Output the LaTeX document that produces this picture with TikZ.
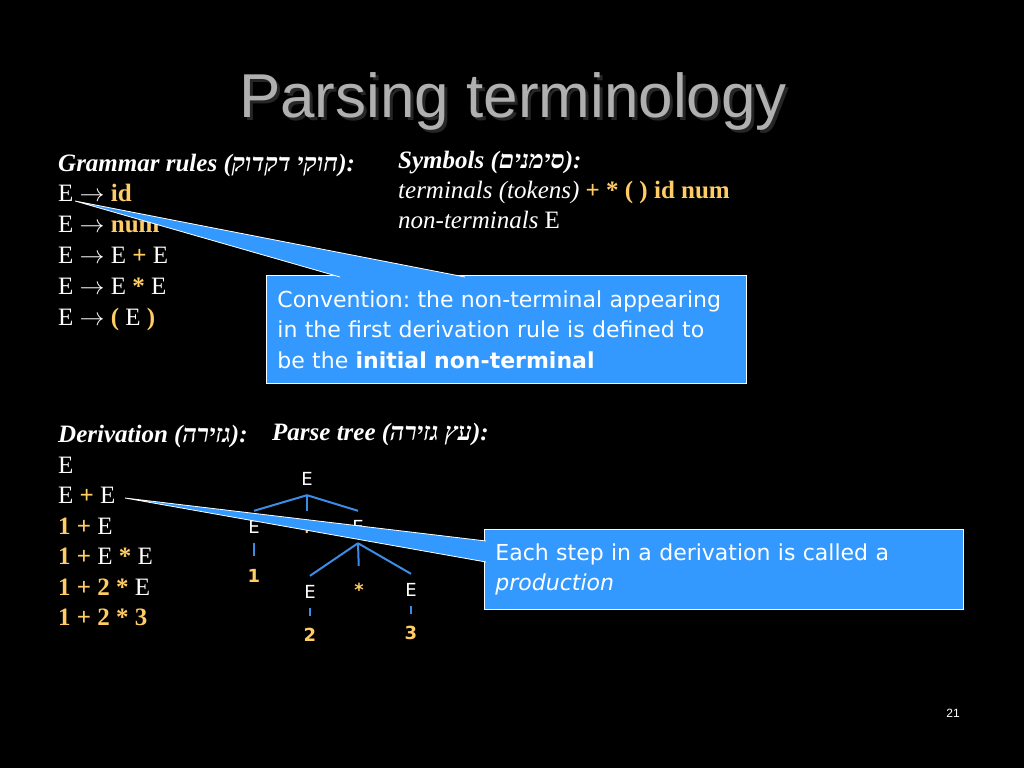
\documentclass[tikz,border=0pt]{standalone}
\usepackage{fontspec}
\setmainfont{Liberation Serif}
\newfontfamily\hebfont[Script=Hebrew]{Liberation Serif}
\newfontfamily\titlefont{Liberation Sans}
\newfontfamily\boxfont{DejaVu Sans}
\TeXXeTstate=1
\frenchspacing
\newcommand{\heb}[1]{{\hebfont\beginR #1\endR}}
\definecolor{calloutblue}{RGB}{51,153,255}
\definecolor{treeblue}{RGB}{60,140,230}
\definecolor{hlorange}{RGB}{255,204,102}
\definecolor{titlegray}{RGB}{176,176,176}
\newcommand{\hl}[1]{\textcolor{hlorange}{\textbf{#1}}}

\begin{document}
\begin{tikzpicture}[x=1pt,y=-1pt,
        txt/.style={anchor=base west,inner sep=0pt,text=white,font=\fontsize{25}{30}\selectfont},
        treenode/.style={font=\boxfont\fontsize{18}{20}\selectfont,text=white,text height=13pt,text depth=0pt,minimum height=32pt,inner sep=0pt},
        leaf/.style={treenode,text=hlorange,font=\boxfont\bfseries\fontsize{18}{20}\selectfont},
        treeline/.style={treeblue,line width=2pt},
        callout/.style={fill=calloutblue,draw=white,line width=0.8pt,text=white,align=left,anchor=north west,
            font=\boxfont\fontsize{22}{30.5}\selectfont}]

    % Background
    \fill[black] (0,0) rectangle (1024,768);
    \useasboundingbox (0,0) rectangle (1024,768);

    % Title
    \node[text=black!70!gray,font=\titlefont\fontsize{62}{64}\selectfont] at (516,104) {Parsing terminology};
    \node[text=titlegray,font=\titlefont\fontsize{62}{64}\selectfont] (title) at (513,101) {Parsing terminology};

    % Grammar rules
    \node[txt] (rule0) at (58,171) {\textbf{\textit{Grammar rules (\heb{חוקי דקדוק}):}}};
    \node[txt] (rule1) at (58,201) {E $\rightarrow$ \hl{id}};
    \node[txt] (rule2) at (58,232) {E $\rightarrow$ \hl{num}};
    \node[txt] (rule3) at (58,263) {E $\rightarrow$ E \hl{+} E};
    \node[txt] (rule4) at (58,294) {E $\rightarrow$ E \hl{*} E};
    \node[txt] (rule5) at (58,325) {E $\rightarrow$ \hl{(} E \hl{)}};

    % Symbols
    \node[txt] (sym0) at (398,168) {\textbf{\textit{Symbols (\heb{סימנים}):}}};
    \node[txt] (sym1) at (398,198) {\textit{terminals (tokens)} \hl{+ * ( ) id num}};
    \node[txt] (sym2) at (398,228) {\textit{non-terminals} E};

    % Derivation
    \node[txt] (der0) at (58,442) {\textbf{\textit{Derivation (\heb{גזירה}):}}};
    \node[txt] (der1) at (58,473) {E};
    \node[txt] (der2) at (58,503) {E \hl{+} E};
    \node[txt] (der3) at (58,534) {\hl{1 +} E};
    \node[txt] (der4) at (58,564) {\hl{1 +} E \hl{*} E};
    \node[txt] (der5) at (58,595) {\hl{1 + 2 *} E};
    \node[txt] (der6) at (58,625) {\hl{1 + 2 * 3}};

    % Parse tree
    \node[txt] (tree0) at (272,440) {\textbf{\textit{Parse tree (\heb{עץ גזירה}):}}};
    \node[treenode] (r) at (307,479) {E};
    \node[treenode] (l) at (254,527) {E};
    \node[leaf] (p) at (307,527) {+};
    \node[treenode] (m) at (358,527) {E};
    \node[leaf] (one) at (254,576) {1};
    \node[treenode] (ml) at (310,592) {E};
    \node[leaf] (star) at (359,590) {*};
    \node[treenode] (mr) at (411,590) {E};
    \node[leaf] (two) at (310,635) {2};
    \node[leaf] (three) at (411,633) {3};

    % Edges
    \draw[treeline] (r.south) -- (l.north);
    \draw[treeline] (r.south) -- (p.north);
    \draw[treeline] (r.south) -- (m.north);
    \draw[treeline,shorten >=4pt] (l.south) -- (one.north);
    \draw[treeline] (m.south) -- (ml.north);
    \draw[treeline,shorten >=8pt] (m.south) -- (star.north);
    \draw[treeline] (m.south) -- (mr.north);
    \draw[treeline,shorten >=3pt] (ml.south) -- (two.north);
    \draw[treeline,shorten >=3pt] (mr.south) -- (three.north);

    % Callouts
    \node[callout,minimum width=480pt,minimum height=108pt,text width=458pt,inner xsep=11pt] (conv) at (266,275)
        {Convention: the non-terminal appearing\\in the first derivation rule is defined to\\be the \textbf{initial non-terminal}};
    \coordinate (convtip) at (75,201);
    \coordinate (convbaseL) at (340,277);
    \coordinate (convbaseR) at (465,277);
    \fill[calloutblue] (convbaseL) -- (convtip) -- (convbaseR) -- cycle;
    \draw[white,line width=0.8pt] (convbaseL) -- (convtip) -- (convbaseR);

    \node[callout,minimum width=479pt,minimum height=80pt,text width=457pt,inner xsep=11pt] (prod) at (484,529)
        {Each step in a derivation is called a\\\textit{production}};
    \coordinate (prodtip) at (125,498);
    \coordinate (prodbaseT) at (486,541);
    \coordinate (prodbaseB) at (486,562);
    \fill[calloutblue] (prodbaseT) -- (prodtip) -- (prodbaseB) -- cycle;
    \draw[white,line width=0.8pt] (prodbaseT) -- (prodtip) -- (prodbaseB);

    % Page number
    \node[text=white,font=\titlefont\fontsize{12}{14}\selectfont] (page) at (953,713) {21};
\end{tikzpicture}
\end{document}
